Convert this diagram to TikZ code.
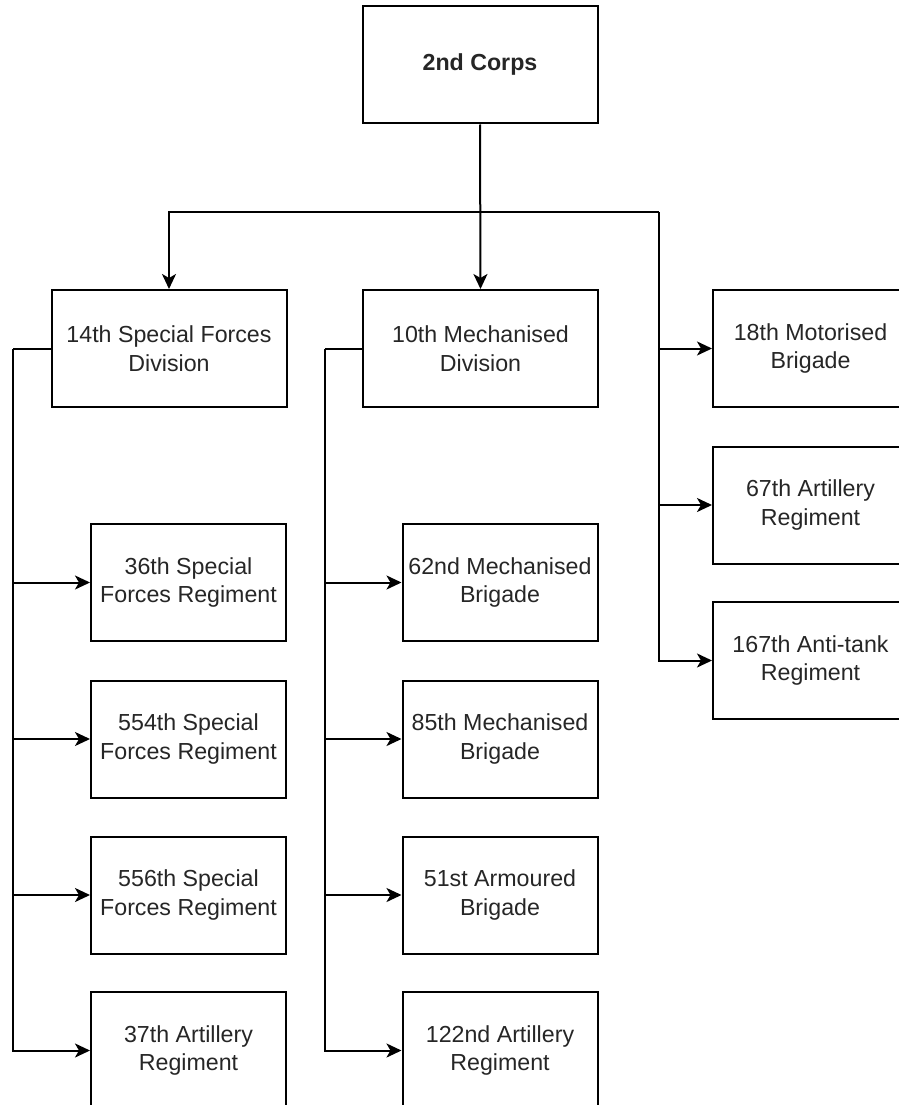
\documentclass[tikz,border=0pt]{standalone}
\usepackage{fontspec}
\setmainfont{Liberation Sans}
\usetikzlibrary{arrows.meta}
\begin{document}
\begin{tikzpicture}[x=1pt,y=-1pt,
  unit/.style={draw=black, line width=2pt, fill=white, align=center,
    text=black!85, inner sep=0pt,
    font=\fontsize{23.2}{28.5}\selectfont},
  wide/.style={unit, minimum width=235pt, minimum height=117pt},
  narrow/.style={unit, minimum width=195pt, minimum height=117pt},
  link/.style={draw=black, line width=2pt},
  arr/.style={link, -{Stealth[length=15pt,width=14pt,inset=4pt]}}]
\useasboundingbox (0,0) rectangle (898,1105);

% command and division level
\node[wide, font=\fontsize{23.2}{28.5}\selectfont\bfseries] (corps) at (480,65) {2nd Corps};
\node[wide] (sfdiv) at (169,348.5) {14th Special Forces\\Division};
\node[wide] (mechdiv) at (480.5,348.5) {10th Mechanised\\Division};

% corps troops
\node[narrow] (mot18) at (810.5,348.5) {18th Motorised\\Brigade};
\node[narrow] (art67) at (810.5,505) {67th Artillery\\Regiment};
\node[narrow] (at167) at (810.5,660.5) {167th Anti-tank\\Regiment};

% units of the special forces division
\node[narrow] (sf36) at (188.5,582.5) {36th Special\\Forces Regiment};
\node[narrow] (sf554) at (188.5,739) {554th Special\\Forces Regiment};
\node[narrow] (sf556) at (188.5,895) {556th Special\\Forces Regiment};
\node[narrow] (art37) at (188.5,1050.5) {37th Artillery\\Regiment};

% units of the mechanised division
\node[narrow] (mech62) at (500,582.5) {62nd Mechanised\\Brigade};
\node[narrow] (mech85) at (500,739) {85th Mechanised\\Brigade};
\node[narrow] (arm51) at (500,895) {51st Armoured\\Brigade};
\node[narrow] (art122) at (500,1050.5) {122nd Artillery\\Regiment};

% trunk points of the connectors
\coordinate (bus) at (480,212);
\coordinate (rtrunk) at (659,212);
\coordinate (ltrunk) at (13,348.5);
\coordinate (mtrunk) at (325,348.5);

% corps to divisions and corps troops
\draw[arr] (corps.south) -- (mechdiv.north);
\draw[arr] (bus) -| (sfdiv.north);
\draw[link] (bus) -- (rtrunk);
\draw[arr] (rtrunk) |- (mot18.west);
\draw[arr] (rtrunk) |- (art67.west);
\draw[arr] (rtrunk) |- (at167.west);

% special forces division
\draw[link] (sfdiv.west) -- (ltrunk);
\draw[arr] (ltrunk) |- (sf36.west);
\draw[arr] (ltrunk) |- (sf554.west);
\draw[arr] (ltrunk) |- (sf556.west);
\draw[arr] (ltrunk) |- (art37.west);

% mechanised division
\draw[link] (mechdiv.west) -- (mtrunk);
\draw[arr] (mtrunk) |- (mech62.west);
\draw[arr] (mtrunk) |- (mech85.west);
\draw[arr] (mtrunk) |- (arm51.west);
\draw[arr] (mtrunk) |- (art122.west);
\end{tikzpicture}
\end{document}
